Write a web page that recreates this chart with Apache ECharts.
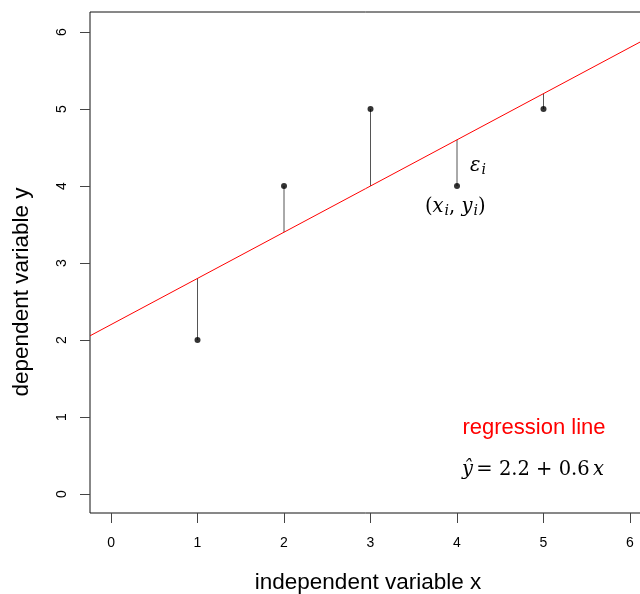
<!DOCTYPE html>
<html><head><meta charset="utf-8">
<script src="https://cdn.jsdelivr.net/npm/echarts@6/dist/echarts.min.js"></script>
<style>html,body{margin:0;padding:0;background:#fff}#c{width:640px;height:594px}</style>
</head><body><div id="c"></div>
<script>
const xVals = [1, 2, 3, 4, 5];
const yVals = [2, 4, 5, 4, 5];
const intercept = 2.2;
const slope = 0.6;
const xTicks = [0, 1, 2, 3, 4, 5, 6];
const yTicks = [0, 1, 2, 3, 4, 5, 6];
const xMin = -0.243, xMax = 6.185, yMin = -0.247, yMax = 6.26;

const pts = xVals.map((x, i) => [x, yVals[i]]);
const resid = xVals.map((x, i) => [x, yVals[i], intercept + slope * x]);
const lineData = [[xMin, intercept + slope * xMin], [xMax, intercept + slope * xMax]];

const chart = echarts.init(document.getElementById('c'), null, {renderer: 'canvas'});
const font = 'Liberation Sans, Arial, Helvetica, sans-serif';
const mathFont = 'DejaVu Serif, Liberation Serif, serif';
chart.setOption({
  animation: false,
  backgroundColor: '#fff',
  grid: {left: 90, top: 12, width: 556, height: 501, outerBoundsMode: 'none', containLabel: false,
         show: true, borderColor: '#111', borderWidth: 1, backgroundColor: 'transparent'},
  xAxis: {
    type: 'value', min: xMin, max: xMax,
    splitLine: {show: false},
    axisLine: {show: false, onZero: false},
    axisTick: {show: true, inside: false, length: 10, lineStyle: {color: '#444'}, customValues: xTicks},
    axisLabel: {show: true, margin: 23, color: '#000', fontSize: 14, fontFamily: font, customValues: xTicks}
  },
  yAxis: {
    type: 'value', min: yMin, max: yMax,
    splitLine: {show: false},
    axisLine: {show: false, onZero: false},
    axisTick: {show: true, inside: false, length: 10, lineStyle: {color: '#444'}, customValues: yTicks},
    axisLabel: {show: true, margin: 21, rotate: 90, color: '#000', fontSize: 14, fontFamily: font, customValues: yTicks}
  },
  series: [
    {
      type: 'line', data: lineData, symbol: 'none', silent: true,
      lineStyle: {color: '#ff0000', width: 1}, z: 2
    },
    {
      type: 'custom', data: resid, z: 1, silent: true,
      renderItem: function (params, api) {
        const a = api.coord([api.value(0), api.value(1)]);
        const b = api.coord([api.value(0), api.value(2)]);
        return {type: 'line', shape: {x1: a[0], y1: a[1], x2: b[0], y2: b[1]}, style: {stroke: '#555', lineWidth: 1}};
      }
    },
    {
      type: 'scatter', data: pts, symbol: 'circle', symbolSize: 6,
      itemStyle: {color: '#000'}, z: 3
    }
  ],
  graphic: [
    {type: 'text', x: 368, y: 583, style: {text: 'independent variable x', align: 'center', verticalAlign: 'middle', font: '22.5px ' + font, fill: '#000'}},
    {type: 'text', x: 22, y: 292, rotation: Math.PI / 2, style: {text: 'dependent variable y', align: 'center', verticalAlign: 'middle', font: '22.5px ' + font, fill: '#000'}},
    {type: 'text', x: 534, y: 428, style: {text: 'regression line', align: 'center', verticalAlign: 'middle', font: '22px ' + font, fill: '#ff0000'}},
    {type: 'text', x: 462, y: 470, style: {
      text: '{i|ŷ} {n|= 2.2 + 0.6} {i|x}', verticalAlign: 'middle',
      rich: {i: {font: 'italic 19.5px ' + mathFont, fill: '#000'}, n: {font: '19.5px ' + mathFont, fill: '#000'}}
    }},
    {type: 'text', x: 470, y: 166, style: {
      text: '{e|ε}{s|i}', verticalAlign: 'middle',
      rich: {e: {font: 'italic 19.5px ' + mathFont, fill: '#000'}, s: {font: 'italic 14px ' + mathFont, fill: '#000', padding: [8, 0, 0, 1]}}
    }},
    {type: 'text', x: 425, y: 207, style: {
      text: '{n|(}{e|x}{s|i}{n|, }{e|y}{s|i}{n|)}', verticalAlign: 'middle',
      rich: {n: {font: '19.5px ' + mathFont, fill: '#000'}, e: {font: 'italic 19.5px ' + mathFont, fill: '#000'}, s: {font: 'italic 14px ' + mathFont, fill: '#000', padding: [8, 0, 0, 1]}}
    }}
  ]
});
</script></body></html>
